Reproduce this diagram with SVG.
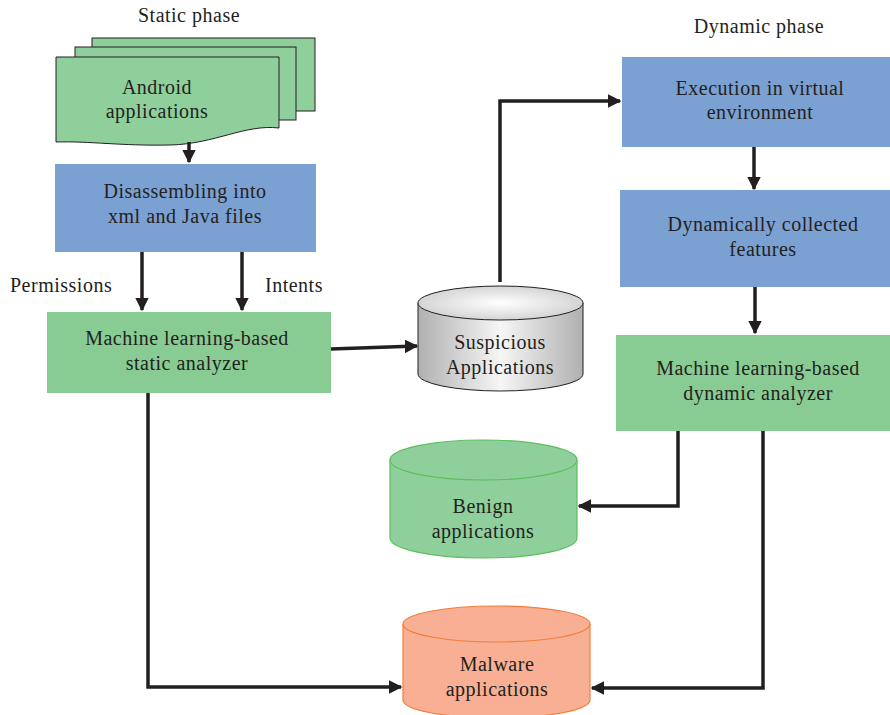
<svg xmlns="http://www.w3.org/2000/svg" width="890" height="715" viewBox="0 0 890 715">
<defs>
<marker id="ah" viewBox="0 0 10 10" refX="9" refY="5" markerWidth="3.9" markerHeight="3.9" orient="auto" markerUnits="strokeWidth">
<path d="M0,0 L10,5 L0,10 Z" fill="#231f20"/>
</marker>
<linearGradient id="gray" x1="0" x2="1" y1="0" y2="0">
<stop offset="0" stop-color="#b0b0b0"/>
<stop offset="0.5" stop-color="#f6f6f6"/>
<stop offset="1" stop-color="#b0b0b0"/>
</linearGradient>
<radialGradient id="graytop" cx="0.5" cy="0.5" r="0.6">
<stop offset="0" stop-color="#ffffff"/>
<stop offset="1" stop-color="#cccccc"/>
</radialGradient>
</defs>
<style>
text{font-family:"Liberation Serif","DejaVu Serif",serif;font-size:20px;letter-spacing:0.5px;fill:#231f20;text-anchor:middle}
.lbl{text-anchor:start}
.blue{fill:#7ba0d2}
.green{fill:#88cb93}
.doc{fill:#8fcf9b;stroke:#231f20;stroke-width:1}
.conn{fill:none;stroke:#231f20;stroke-width:3.5;marker-end:url(#ah)}
</style>
<text x="189" y="22">Static phase</text>
<text x="759" y="33">Dynamic phase</text>
<g id="android">
<rect class="doc" x="92" y="38" width="223" height="73"/>
<rect class="doc" x="75" y="47" width="221" height="73"/>
<path class="doc" d="M56,57 H279 V128 C245,124 215,144 170,145 C120,146 90,141 56,142 Z"/>
<text x="157" y="94">Android</text>
<text x="157" y="118">applications</text>
</g>
<g id="disassemble">
<rect class="blue" x="55" y="164" width="261" height="88"/>
<text x="185" y="198">Disassembling into</text>
<text x="185" y="223">xml and Java files</text>
</g>
<text class="lbl" x="10" y="292">Permissions</text>
<text class="lbl" x="265" y="292">Intents</text>
<g id="static">
<rect class="green" x="47" y="312" width="284" height="81"/>
<text x="187" y="345">Machine learning-based</text>
<text x="187" y="370">static analyzer</text>
</g>
<g id="suspicious">
<path d="M418,303 V374 A82.5,17 0 0 0 583,374 V303" fill="url(#gray)" stroke="#231f20" stroke-width="1"/>
<ellipse cx="500.5" cy="303" rx="82.5" ry="17" fill="url(#graytop)" stroke="#231f20" stroke-width="1"/>
<text x="500" y="349">Suspicious</text>
<text x="500" y="374">Applications</text>
</g>
<g id="execution">
<rect class="blue" x="622" y="57" width="268" height="90"/>
<text x="760" y="95">Execution in virtual</text>
<text x="760" y="119">environment</text>
</g>
<g id="dynfeatures">
<rect class="blue" x="620" y="190" width="270" height="97"/>
<text x="763" y="231">Dynamically collected</text>
<text x="763" y="256">features</text>
</g>
<g id="dynamic">
<rect class="green" x="616" y="335" width="274" height="96"/>
<text x="758" y="375">Machine learning-based</text>
<text x="758" y="400">dynamic analyzer</text>
</g>
<g id="benign">
<path d="M390,460 V538 A93.5,20 0 0 0 577,538 V460" fill="#8fcf9b" stroke="#5cbf5c" stroke-width="1.2"/>
<ellipse cx="483.5" cy="460" rx="93.5" ry="20" fill="#8fcf9b" stroke="#5cbf5c" stroke-width="1.2"/>
<text x="483" y="513">Benign</text>
<text x="483" y="538">applications</text>
</g>
<g id="malware">
<path d="M403,624 V700 A93.5,18 0 0 0 590,700 V624" fill="#f8af94" stroke="#f07f3c" stroke-width="1.2"/>
<ellipse cx="496.5" cy="624" rx="93.5" ry="18" fill="#f8af94" stroke="#f07f3c" stroke-width="1.2"/>
<text x="497" y="671">Malware</text>
<text x="497" y="696">applications</text>
</g>
<g id="connectors">
<path class="conn" d="M189,142 V162"/>
<path class="conn" d="M142,252 V310"/>
<path class="conn" d="M242,252 V310"/>
<path class="conn" d="M331,349 L417,346"/>
<path class="conn" d="M500,282 V101 H620"/>
<path class="conn" d="M754,147 V189"/>
<path class="conn" d="M755,287 V333"/>
<path class="conn" d="M678,431 V506 H579"/>
<path class="conn" d="M763,431 V688 H592"/>
<path class="conn" d="M148,393 V687 H401"/>
</g>
</svg>
